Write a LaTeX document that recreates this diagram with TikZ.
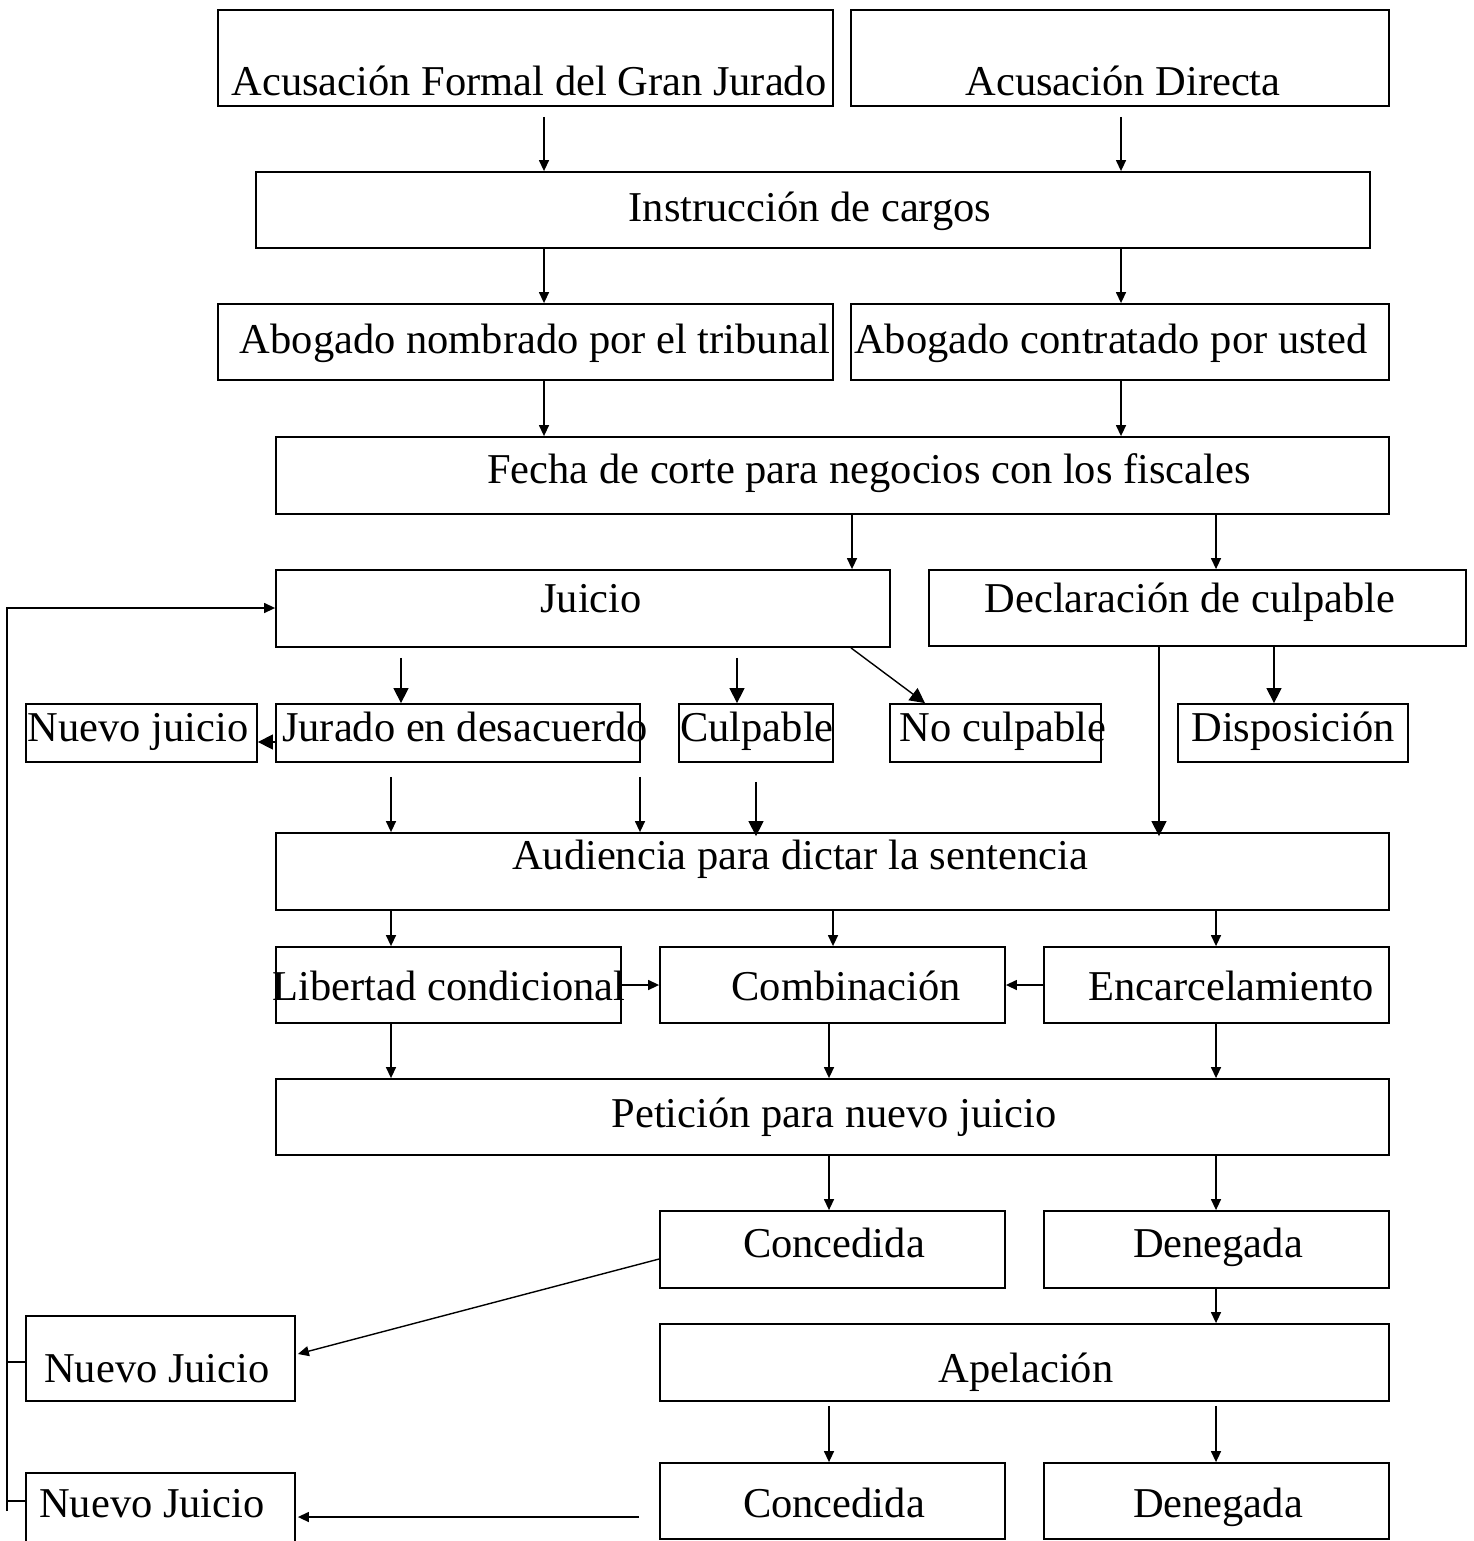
\documentclass[tikz,border=0pt]{standalone}
\usepackage{fontspec}
\setmainfont{Liberation Serif}
\usetikzlibrary{arrows.meta,calc}
\tikzset{
  box/.style={draw, line width=1.8pt, inner sep=0pt, rectangle},
  txt/.style={inner sep=0pt, font=\fontsize{42.5}{50}\selectfont, anchor=base},
  ln/.style={line width=1.4pt},
  arr/.style={ln, -{Triangle[width=10pt,length=11pt]}},
  big/.style={ln, -{Triangle[width=15pt,length=15pt]}}
}
% name, x1, y1, x2, y2, text x, baseline, text
\newcommand\mybx[8]{%
  \node[box, minimum width={(#4-#2)*1pt}, minimum height={(#5-#3)*1pt}] (#1) at ({(#2+#4)/2},{(#3+#5)/2}) {};
  \node[txt] (#1-t) at (#6,#7) {#8};}
\begin{document}
\begin{tikzpicture}[x=1pt,y=-1pt]
\clip (0,0) rectangle (1473,1541);
\fill[white] (0,0) rectangle (1473,1541);
% boxes
\mybx{a1}{218}{10}{833}{106}{529}{96}{Acusación Formal del Gran Jurado}
\mybx{a2}{851}{10}{1389}{106}{1123}{96}{Acusación Directa}
\mybx{instr}{256}{172}{1370}{248}{810}{222}{Instrucción de cargos}
\mybx{abn}{218}{304}{833}{380}{535}{353}{Abogado nombrado por el tribunal}
\mybx{abc}{851}{304}{1389}{380}{1111}{353}{Abogado contratado por usted}
\mybx{fecha}{276}{437}{1389}{514}{869}{483}{Fecha de corte para negocios con los fiscales}
\mybx{juicio}{276}{570}{890}{647}{591}{612}{Juicio}
\mybx{decl}{929}{570}{1466}{646}{1190}{612}{Declaración de culpable}
\mybx{nj}{26}{704}{257}{762}{138}{741}{Nuevo juicio}
\mybx{jurado}{276}{704}{640}{762}{465}{741}{Jurado en desacuerdo}
\mybx{culp}{679}{704}{833}{762}{757}{741}{Culpable}
\mybx{noculp}{890}{704}{1101}{762}{1003}{741}{No culpable}
\mybx{disp}{1178}{704}{1408}{762}{1293}{741}{Disposición}
\mybx{aud}{276}{833}{1389}{910}{800}{869}{Audiencia para dictar la sentencia}
\mybx{lib}{276}{947}{621}{1023}{449}{1000}{Libertad condicional}
\mybx{comb}{660}{947}{1005}{1023}{846}{1000}{Combinación}
\mybx{enc}{1044}{947}{1389}{1023}{1231}{1000}{Encarcelamiento}
\mybx{pet}{276}{1079}{1389}{1155}{834}{1127}{Petición para nuevo juicio}
\mybx{con1}{660}{1211}{1005}{1288}{834}{1257}{Concedida}
\mybx{den1}{1044}{1211}{1389}{1288}{1218}{1257}{Denegada}
\mybx{nj1}{26}{1316}{295}{1401}{157}{1382}{Nuevo Juicio}
\mybx{apel}{660}{1324}{1389}{1401}{1026}{1382}{Apelación}
\mybx{con2}{660}{1463}{1005}{1539}{834}{1517}{Concedida}
\mybx{den2}{1044}{1463}{1389}{1539}{1218}{1517}{Denegada}
\mybx{nj2}{26}{1473}{295}{1580}{152}{1517}{Nuevo Juicio}
% connectors
\draw[arr] ($(a1.south -| 544,0)+(0,10)$) -- (instr.north -| 544,0);
\draw[arr] ($(a2.south -| 1121,0)+(0,10)$) -- (instr.north -| 1121,0);
\draw[arr] (instr.south -| 544,0) -- (abn.north -| 544,0);
\draw[arr] (instr.south -| 1121,0) -- (abc.north -| 1121,0);
\draw[arr] (abn.south -| 544,0) -- (fecha.north -| 544,0);
\draw[arr] (abc.south -| 1121,0) -- (fecha.north -| 1121,0);
\draw[arr] (fecha.south -| 852,0) -- (juicio.north -| 852,0);
\draw[arr] (fecha.south -| 1216,0) -- (decl.north -| 1216,0);
\draw[big] ($(juicio.south -| 401,0)+(0,10)$) -- (jurado.north -| 401,0);
\draw[big] ($(juicio.south -| 737,0)+(0,10)$) -- (culp.north -| 737,0);
\draw[big] (juicio.south -| 851,0) -- (noculp.north -| 925,0);
\draw[big] (decl.south -| 1274,0) -- (disp.north -| 1274,0);
\draw[big] (decl.south -| 1159,0) -- ($(aud.north -| 1159,0)+(0,4)$);
\draw[big] (jurado.west |- 0,742) -- (nj.east |- 0,742);
\draw[arr] ($(jurado.south -| 391,0)+(0,14)$) -- (aud.north -| 391,0);
\draw[arr] ($(jurado.south -| 640,0)+(0,14)$) -- (aud.north -| 640,0);
\draw[big] ($(culp.south -| 756,0)+(0,19)$) -- ($(aud.north -| 756,0)+(0,4)$);
\draw[arr] (aud.south -| 391,0) -- (lib.north -| 391,0);
\draw[arr] (aud.south -| 833,0) -- (comb.north -| 833,0);
\draw[arr] (aud.south -| 1216,0) -- (enc.north -| 1216,0);
\draw[arr] (lib.east) -- (comb.west);
\draw[arr] (enc.west) -- (comb.east);
\draw[arr] (lib.south -| 391,0) -- (pet.north -| 391,0);
\draw[arr] (comb.south -| 829,0) -- (pet.north -| 829,0);
\draw[arr] (enc.south -| 1216,0) -- (pet.north -| 1216,0);
\draw[arr] (pet.south -| 829,0) -- (con1.north -| 829,0);
\draw[arr] (pet.south -| 1216,0) -- (den1.north -| 1216,0);
\draw[arr] (den1.south -| 1216,0) -- (apel.north -| 1216,0);
\draw[arr] ($(apel.south -| 829,0)+(0,4)$) -- (con2.north -| 829,0);
\draw[arr] ($(apel.south -| 1216,0)+(0,4)$) -- (den2.north -| 1216,0);
\draw[arr] (con1.west |- 0,1259) -- ($(nj1.east |- 0,1354)+(2,0)$);
\draw[arr] ($(con2.west |- 0,1517)+(-20,0)$) -- ($(nj2.east |- 0,1517)+(2,0)$);
% loop back to Juicio
\coordinate (lt) at (7,608);
\coordinate (lb) at (7,1511);
\draw[arr] (lb) -- (lt) -- (juicio.west |- lt);
\draw[ln] (nj1.west |- 0,1362) -- (lt |- 0,1362);
\draw[ln] (nj2.west |- 0,1501) -- (lt |- 0,1501);
\end{tikzpicture}
\end{document}
